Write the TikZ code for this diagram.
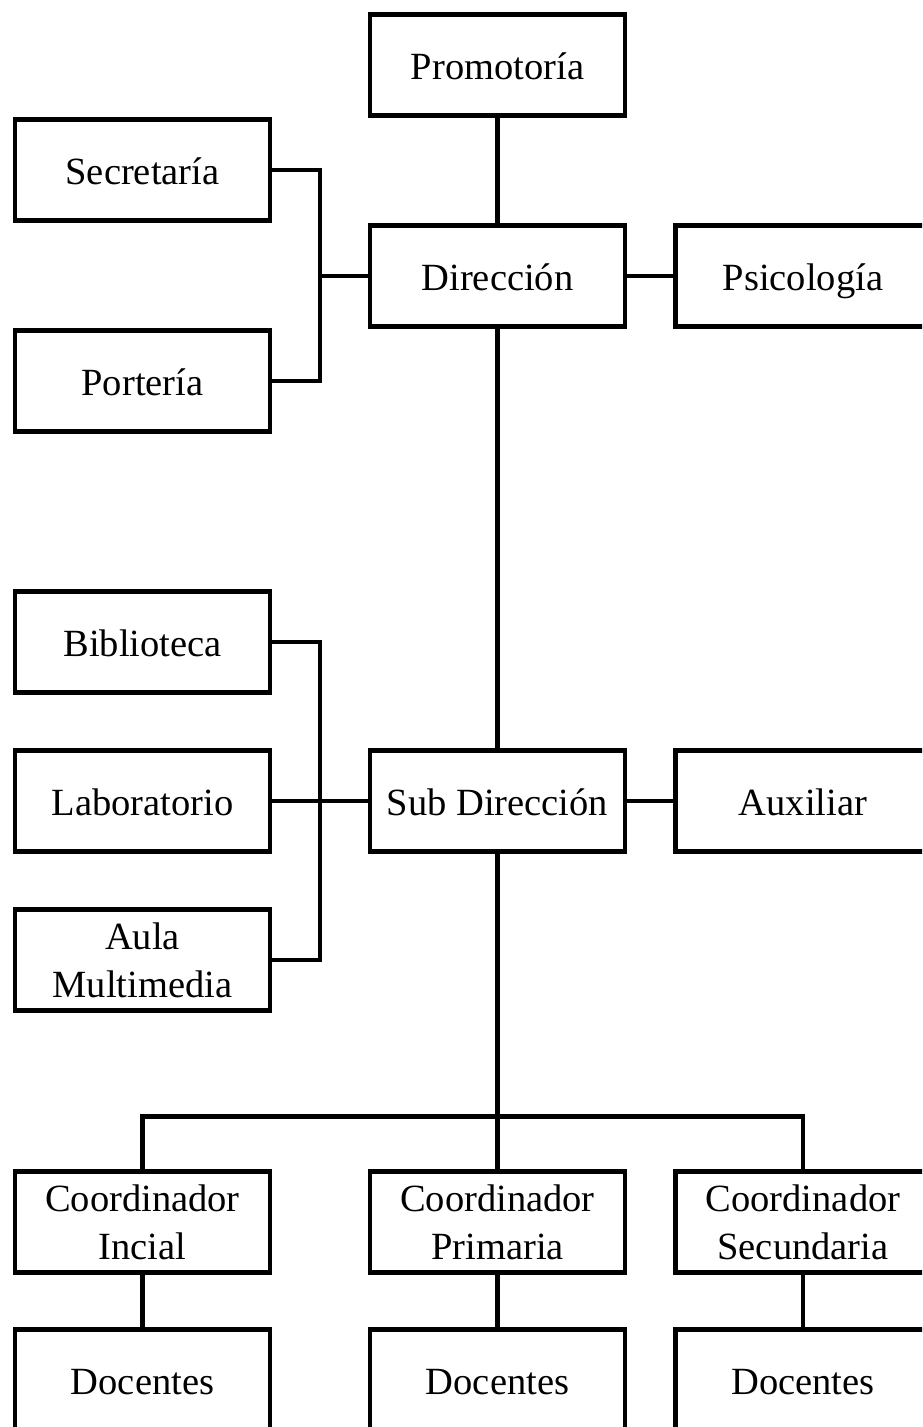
\documentclass[tikz,border=0pt]{standalone}
\usepackage{fontspec}
\setmainfont{Liberation Serif}
\usetikzlibrary{positioning,calc}

\begin{document}
\begin{tikzpicture}[
    -,line width=4.5pt,
    node distance=105pt,on grid,
    unit/.style={draw,rectangle,line width=4.5pt,minimum width=255pt,minimum height=101pt,
      inner sep=0pt,align=center,font=\fontsize{38.5}{48}\selectfont},
    oneline/.style={unit,text height=36pt,text depth=8pt}
  ]
  \clip (0,0) rectangle (922pt,-1427pt);
  % top part
  \node[oneline] (prom) at (497.5pt,-65pt) {Promotoría};
  \node[oneline] (dir) [below=211pt of prom] {Dirección};
  \node[oneline] (psic) [right=305.5pt of dir] {Psicología};
  \node[oneline] (secr) [above left=106pt and 355pt of dir] {Secretaría};
  \node[oneline] (port) [below left=105pt and 355pt of dir] {Portería};
  % middle part
  \node[oneline] (sub) [below=525pt of dir] {Sub Dirección};
  \node[oneline] (aux) [right=305.5pt of sub] {Auxiliar};
  \node[oneline] (lab) [left=355pt of sub] {Laboratorio};
  \node[oneline] (bib) [above=159pt of lab] {Biblioteca};
  \node[unit] (aula) [below=159pt of lab] {Aula\\Multimedia};
  % bottom part
  \node[unit] (coordP) [below=421pt of sub] {Coordinador\\Primaria};
  \node[unit] (coordI) [left=355pt of coordP] {Coordinador\\Incial};
  \node[unit] (coordS) [right=305.5pt of coordP] {Coordinador\\Secundaria};
  \node[oneline] (docI) [below=158pt of coordI] {Docentes};
  \node[oneline] (docP) [below=158pt of coordP] {Docentes};
  \node[oneline] (docS) [below=158pt of coordS] {Docentes};

  \coordinate (busA) at ($(dir.west)+(-48pt,0)$);
  \coordinate (busB) at ($(sub.west)+(-48pt,0)$);
  \coordinate (busC) at ($(coordP.north)+(0,53pt)$);

  \path (prom) edge (dir)
  (dir) edge (psic)
  edge (sub)
  (sub) edge (aux)
  (lab) edge (sub)
  (coordI) edge (docI)
  (coordP) edge (docP)
  (coordS) edge (docS);
  \draw (secr.east) -| (busA) |- (port.east);
  \draw (busA) -- (dir.west);
  \draw (bib.east) -| (busB) |- (aula.east);
  \draw (sub.south) -- (coordP.north);
  \draw (coordI.north) |- (busC) -| (coordS.north);
\end{tikzpicture}
\end{document}
